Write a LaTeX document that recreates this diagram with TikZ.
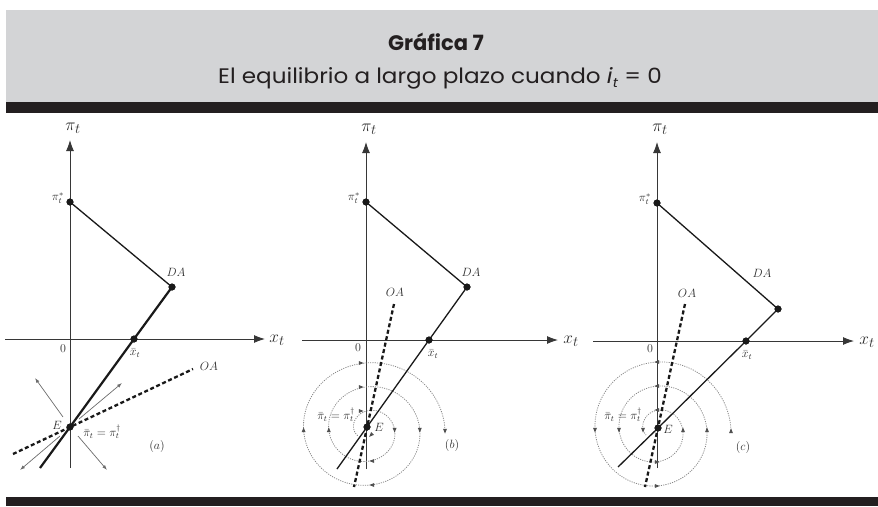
\documentclass[tikz,border=0pt]{standalone}
\usepackage{fontspec}
\newfontfamily\hdrfont{Poppins}
\usetikzlibrary{arrows.meta}
\definecolor{hdrgray}{RGB}{211,212,214}
\definecolor{bandcol}{RGB}{35,31,32}
\definecolor{axcol}{RGB}{55,55,55}
\definecolor{lncol}{RGB}{25,25,25}
\definecolor{spcol}{RGB}{135,135,135}
\definecolor{lblcol}{RGB}{45,45,45}
\newcommand\sparr[2]{\fill[spcol!60!black, shift={#1}, rotate=#2] (2.6pt,0pt) -- (-2.2pt,2pt) -- (-2.2pt,-2pt) -- cycle;}
\begin{document}
\begin{tikzpicture}[x=1pt,y=-1pt,
  axis/.style={draw=axcol, line width=0.9pt, -{Latex[length=11pt,width=8pt]}},
  daline/.style={draw=lncol, line width=1.3pt},
  dathick/.style={draw=lncol, line width=2.2pt},
  oaline/.style={draw=lncol, line width=2.3pt, dash pattern=on 4pt off 2.6pt},
  dotn/.style={circle, fill=lncol, inner sep=0pt, minimum size=7pt},
  bigl/.style={font=\fontsize{19}{22}\selectfont, text=lblcol, inner sep=0pt},
  midl/.style={font=\fontsize{13}{15}\selectfont, text=lblcol, inner sep=0pt},
  smalll/.style={font=\fontsize{11.5}{13}\selectfont, text=lblcol, inner sep=0pt},
  grayarr/.style={draw=spcol!80!black, line width=0.7pt, -{Latex[length=5pt,width=3.5pt]}},
  spiral/.style={draw=spcol, line width=0.8pt, dash pattern=on 1.1pt off 1.2pt},
  hdr/.style={font=\hdrfont\fontsize{21}{24}\selectfont, text=bandcol, inner sep=0pt, anchor=base},
]
\useasboundingbox (0,0) rectangle (878,506);
% header
\fill[hdrgray] (6,10) rectangle (878,102);
\fill[bandcol] (6,102) rectangle (878,113);
\fill[bandcol] (6,497) rectangle (878,506);
\node[hdr, font=\hdrfont\bfseries\fontsize{21}{24}\selectfont] (title) at (436,50) {Gráfica 7};
\node[hdr] (subtitle) at (440,83) {\scalebox{1.1}[1]{El equilibrio a largo plazo cuando \textit{i}\raisebox{-0.35ex}{\fontsize{13}{14}\selectfont\textit{t}} = 0}};

% ================= panel (a) =================
\coordinate (a-ybot) at (70,468);
\coordinate (a-ytop) at (70,140);
\coordinate (a-xl) at (5,339);
\coordinate (a-xr) at (265,339);
\draw[axis] (a-ybot) -- (a-ytop);
\draw[axis] (a-xl) -- (a-xr);
\coordinate (a-lend) at (40,468);
\coordinate (a-oa1) at (13,454);
\coordinate (a-oa2) at (193,369);
\node[dotn] (a-pis) at (70,202) {};
\node[dotn] (a-da) at (172,287) {};
\node[dotn] (a-xb) at (134,339) {};
\node[dotn] (a-E) at (70,427) {};
\coordinate (a-t1) at (35,378);
\coordinate (a-t2) at (122,383);
\coordinate (a-t3) at (20,470);
\coordinate (a-t4) at (107,470);
\coordinate (a-s1) at (63,417);
\coordinate (a-s2) at (79,419);
\coordinate (a-s3) at (60,436);
\coordinate (a-s4) at (78,436);
\draw[grayarr] (a-s1) -- (a-t1);
\draw[grayarr] (a-s2) -- (a-t2);
\draw[grayarr] (a-s3) -- (a-t3);
\draw[grayarr] (a-s4) -- (a-t4);
\draw[daline] (a-pis.center) -- (a-da.center);
\draw[dathick] (a-da.center) -- (a-xb.center) -- (a-E.center) -- (a-lend);
\draw[oaline] (a-oa1) -- (a-oa2);
\node[dotn] at (a-pis) {};
\node[dotn] at (a-da) {};
\node[dotn] at (a-xb) {};
\node[dotn] at (a-E) {};
\node[bigl] (a-pil) at (73,128) {$\pi_t$};
\node[bigl] (a-xl) at (277,340) {$x_t$};
\node[smalll, anchor=east] (a-pisl) at (64,198) {$\pi_t^{*}$};
\node[midl] (a-dal) at (176,272) {$DA$};
\node[smalll] (a-xbl) at (135,353) {$\bar{x}_t$};
\node[smalll] (a-0) at (63,349) {$0$};
\node[midl] (a-oal) at (209,366) {$OA$};
\node[midl] (a-El) at (57,425) {$E$};
\node[smalll] (a-eql) at (102,432) {$\bar{\pi}_t=\pi_t^{\dagger}$};
\node[midl] (a-lab) at (157,446) {$(a)$};

% ================= panel (b) =================
\coordinate (b-ybot) at (366,469);
\coordinate (b-ytop) at (366,142);
\coordinate (b-xl) at (302,340);
\coordinate (b-xr) at (558,340);
\draw[axis] (b-ybot) -- (b-ytop);
\draw[axis] (b-xl) -- (b-xr);
\draw[spiral] plot[domain=150:1080, samples=240, variable=\t, smooth] ({368+(14+0.07*(\t-180))*cos(\t)}, {430+0.95*(14+0.07*(\t-180))*sin(\t)});
\sparr{(361,411)}{0}
\sparr{(361,387)}{0}
\sparr{(361,363)}{0}
\sparr{(394.6,430)}{270}
\sparr{(419.8,430)}{270}
\sparr{(445,431)}{270}
\sparr{(372,461)}{180}
\sparr{(372,485)}{180}
\sparr{(328.8,430)}{90}
\sparr{(303.6,430)}{90}
\sparr{(371,435)}{225}
\node[dotn] (b-pis) at (366,202) {};
\node[dotn] (b-da) at (467,287) {};
\node[dotn] (b-xb) at (429,340) {};
\node[dotn] (b-E) at (367,427) {};
\coordinate (b-lend) at (337,469);
\coordinate (b-oa1) at (394,304);
\coordinate (b-oa2) at (354,487);
\draw[daline] (b-pis.center) -- (b-da.center) -- (b-xb.center) -- (b-E.center) -- (b-lend);
\draw[oaline] (b-oa1) -- (b-oa2);
\node[dotn] at (b-pis) {};
\node[dotn] at (b-da) {};
\node[dotn] at (b-xb) {};
\node[dotn] at (b-E) {};
\node[bigl] (b-pil) at (369,129) {$\pi_t$};
\node[bigl] (b-xl) at (571,341) {$x_t$};
\node[smalll, anchor=east] (b-pisl) at (360,198) {$\pi_t^{*}$};
\node[midl] (b-dal) at (471,272) {$DA$};
\node[smalll] (b-xbl) at (433,354) {$\bar{x}_t$};
\node[smalll] (b-0) at (358,348) {$0$};
\node[midl] (b-oal) at (395,292) {$OA$};
\node[midl] (b-El) at (379,427) {$E$};
\node[smalll] (b-eql) at (336,415) {$\bar{\pi}_t=\pi_t^{\dagger}$};
\node[midl] (b-lab) at (452,445) {$(b)$};

% ================= panel (c) =================
\coordinate (c-ybot) at (657,468);
\coordinate (c-ytop) at (657,142);
\coordinate (c-xl) at (593,341);
\coordinate (c-xr) at (854,341);
\draw[axis] (c-ybot) -- (c-ytop);
\draw[axis] (c-xl) -- (c-xr);
\draw[spiral] plot[domain=0:-925, samples=240, variable=\t, smooth] ({657+(74+0.067*\t)*cos(\t)}, {430+(74+0.067*\t)*sin(\t)});
\sparr{(731,431)}{90}
\sparr{(707,430)}{90}
\sparr{(683,430)}{90}
\sparr{(595,430)}{270}
\sparr{(619,430)}{270}
\sparr{(643,430)}{270}
\sparr{(657,486)}{0}
\sparr{(657,462)}{0}
\sparr{(657,362)}{180}
\sparr{(657,386)}{180}
\sparr{(657,410)}{180}
\node[dotn] (c-pis) at (657,203) {};
\node[dotn] (c-da) at (778,309) {};
\node[dotn] (c-xb) at (746,341) {};
\node[dotn] (c-E) at (658,428) {};
\coordinate (c-lend) at (618,467);
\coordinate (c-oa1) at (685,304);
\coordinate (c-oa2) at (645,487);
\draw[daline] (c-pis.center) -- (c-da.center) -- (c-xb.center) -- (c-E.center) -- (c-lend);
\draw[oaline] (c-oa1) -- (c-oa2);
\node[dotn] at (c-pis) {};
\node[dotn] at (c-da) {};
\node[dotn] at (c-xb) {};
\node[dotn] at (c-E) {};
\node[bigl] (c-pil) at (660,129) {$\pi_t$};
\node[bigl] (c-xl) at (867,342) {$x_t$};
\node[smalll, anchor=east] (c-pisl) at (651,199) {$\pi_t^{*}$};
\node[midl] (c-dal) at (762,273) {$DA$};
\node[smalll] (c-xbl) at (747,355) {$\bar{x}_t$};
\node[smalll] (c-0) at (650,349) {$0$};
\node[midl] (c-oal) at (687,293) {$OA$};
\node[midl] (c-El) at (668,429) {$E$};
\node[smalll] (c-eql) at (623,415) {$\bar{\pi}_t=\pi_t^{\dagger}$};
\node[midl] (c-lab) at (743,447) {$(c)$};
\end{tikzpicture}
\end{document}
